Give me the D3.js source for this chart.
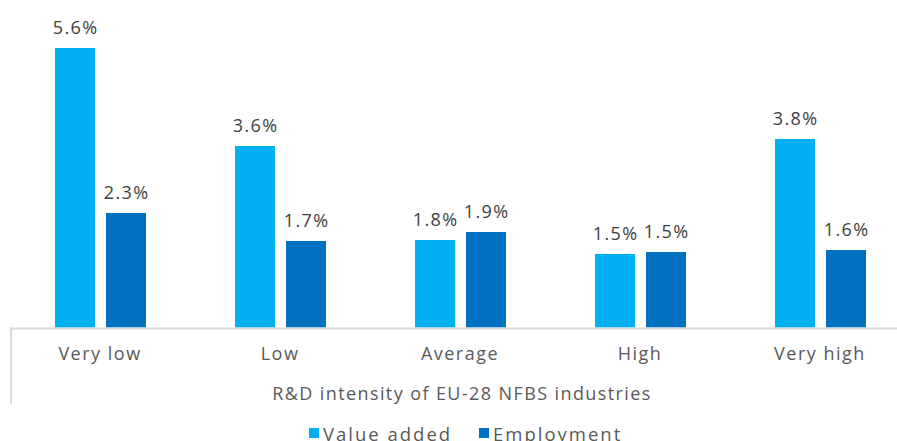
<!DOCTYPE html>
<html>
<head>
<meta charset="utf-8">
<script src="https://cdn.jsdelivr.net/npm/d3@7"></script>
<style>
  html, body { margin: 0; padding: 0; background: #fff; }
  svg { display: block; }
  text { font-family: "Open Sans", sans-serif; fill: #595959; letter-spacing: 1.4px; }
</style>
</head>
<body>
<svg id="chart" width="897" height="441"></svg>
<script>
const categories = ["Very low", "Low", "Average", "High", "Very high"];
const seriesNames = ["Value added", "Employment"];
const valueAdded = [5.59, 3.63, 1.75, 1.47, 3.77];
const employment = [2.29, 1.73, 1.91, 1.51, 1.55];
const valueAddedLabels = ["5.6%", "3.6%", "1.8%", "1.5%", "3.8%"];
const employmentLabels = ["2.3%", "1.7%", "1.9%", "1.5%", "1.6%"];
const colors = ["#00B0F0", "#0070C0"];
const axisTitle = "R&D intensity of EU-28 NFBS industries";

const svg = d3.select("#chart");
const FS = 18;

const x0 = d3.scaleBand().domain(categories).range([10, 910]).padding(0);
const x1 = d3.scaleBand().domain(seriesNames).range([45, 136]).paddingInner(0.216).paddingOuter(0);
const y = d3.scaleLinear().domain([0, 6]).range([327.5, 27.5]);
const color = d3.scaleOrdinal().domain(seriesNames).range(colors);

const rows = categories.map((c, i) => ({
  cat: c,
  vals: [
    { s: seriesNames[0], v: valueAdded[i], lab: valueAddedLabels[i] },
    { s: seriesNames[1], v: employment[i], lab: employmentLabels[i] }
  ]
}));

const g = svg.append("g");
const groups = g.selectAll("g.cat").data(rows).join("g")
  .attr("class", "cat")
  .attr("transform", d => `translate(${x0(d.cat)},0)`);

groups.selectAll("rect").data(d => d.vals).join("rect")
  .attr("x", d => x1(d.s))
  .attr("width", x1.bandwidth())
  .attr("y", d => y(d.v))
  .attr("height", d => y(0) - y(d.v))
  .attr("fill", d => color(d.s));

groups.selectAll("text.lab").data(d => d.vals).join("text")
  .attr("class", "lab")
  .attr("x", d => x1(d.s) + x1.bandwidth() / 2 + 0.7)
  .attr("y", d => y(d.v) - 14.5)
  .attr("text-anchor", "middle")
  .attr("font-size", FS)
  .style("fill", "#404040")
  .text(d => d.lab);

// category axis
const axis = d3.axisBottom(x0).tickSize(0).tickPadding(0);
const axG = svg.append("g").attr("transform", `translate(0,${y(0)})`).call(axis);
axG.select(".domain").remove();
axG.selectAll("text")
  .attr("y", 32.5)
  .attr("dy", 0)
  .attr("font-size", FS)
  .style("font-family", "'Open Sans', sans-serif")
  .style("letter-spacing", "1.5px")
  .style("fill", "#595959");

svg.append("line")
  .attr("x1", 10).attr("x2", 897)
  .attr("y1", y(0) + 1).attr("y2", y(0) + 1)
  .attr("stroke", "#d9d9d9").attr("stroke-width", 2);
svg.append("line")
  .attr("x1", 11).attr("x2", 11)
  .attr("y1", y(0)).attr("y2", 404)
  .attr("stroke", "#d9d9d9").attr("stroke-width", 2);

svg.append("text")
  .attr("x", 462).attr("y", 399.5)
  .attr("text-anchor", "middle")
  .attr("font-size", FS)
  .text(axisTitle);

// legend
const legendX = [309, 479];
const lg = svg.selectAll("g.leg").data(seriesNames).join("g")
  .attr("class", "leg")
  .attr("transform", (d, i) => `translate(${legendX[i]},428)`);
lg.append("rect").attr("width", 10).attr("height", 10).attr("fill", d => color(d));
lg.append("text").attr("x", 14).attr("y", 12.5).attr("font-size", 18.5)
  .style("letter-spacing", "2px").text(d => d);
</script>
</body>
</html>
